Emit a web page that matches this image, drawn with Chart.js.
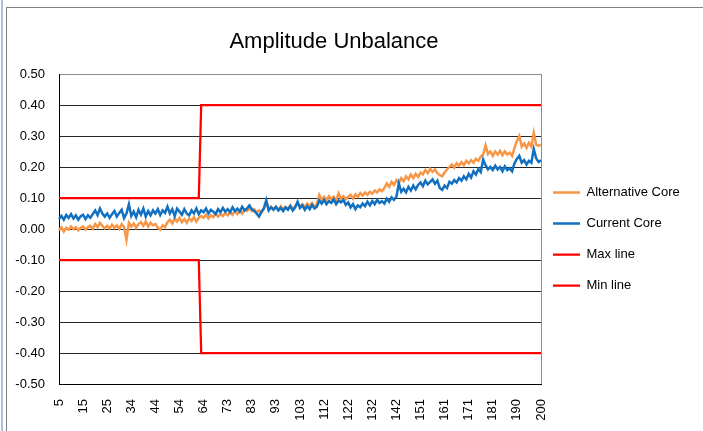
<!DOCTYPE html>
<html><head><meta charset="utf-8">
<script src="https://cdn.jsdelivr.net/npm/chart.js@4.4.1/dist/chart.umd.min.js"></script>
<style>
html,body{margin:0;padding:0;background:#fff;}
#wrap{position:relative;width:703px;height:431px;overflow:hidden;}
#edge{position:absolute;left:1px;top:0;width:2px;height:431px;background:#a9c2e2;}
#frame{position:absolute;left:6px;top:7px;width:760px;height:500px;border-left:1px solid #808080;border-top:1px solid #808080;}
canvas{position:absolute;left:0;top:0;}
</style></head><body>
<div id="wrap"><div id="edge"></div><div id="frame"></div><canvas id="c" width="703" height="431"></canvas></div>
<script>
const titleText = 'Amplitude Unbalance';
const tickLabels = ["5","15","25","34","44","54","64","73","83","93","103","112","122","132","142","151","161","171","181","190","200"];

const altCore = [
 -0.004,0.006,-0.008,0.004,-0.002,0.008,0.000,0.006,-0.004,0.004,
 0.008,-0.002,0.006,0.010,0.000,0.016,0.006,0.020,0.010,0.002,
 0.010,0.002,0.014,0.004,0.012,0.000,0.016,0.006,-0.035,0.020,
 0.008,0.018,0.004,0.016,0.022,0.010,0.024,0.008,0.020,0.012,
 0.016,0.004,-0.002,0.012,0.006,0.022,0.030,0.018,0.034,0.024,
 0.036,0.022,0.032,0.020,0.034,0.026,0.038,0.024,0.036,0.042,
 0.036,0.046,0.034,0.044,0.038,0.050,0.040,0.048,0.042,0.052,
 0.044,0.054,0.046,0.058,0.048,0.060,0.050,0.062,0.058,0.068,
 0.058,0.064,0.054,0.060,0.052,0.066,0.088,0.062,0.072,0.064,
 0.070,0.062,0.074,0.064,0.070,0.066,0.076,0.064,0.074,0.082,
 0.072,0.080,0.070,0.082,0.074,0.084,0.072,0.080,0.110,0.094,
 0.104,0.094,0.106,0.096,0.104,0.092,0.115,0.098,0.106,0.096,
 0.104,0.110,0.098,0.112,0.104,0.116,0.108,0.118,0.110,0.120,
 0.114,0.124,0.118,0.128,0.122,0.132,0.147,0.136,0.152,0.142,
 0.158,0.148,0.164,0.154,0.170,0.160,0.176,0.164,0.178,0.168,
 0.182,0.176,0.190,0.180,0.194,0.184,0.192,0.180,0.174,0.170,
 0.182,0.192,0.200,0.208,0.198,0.212,0.204,0.216,0.206,0.220,
 0.212,0.222,0.214,0.226,0.220,0.234,0.240,0.270,0.242,0.250,
 0.236,0.250,0.240,0.252,0.238,0.250,0.240,0.246,0.236,0.262,
 0.284,0.300,0.266,0.276,0.262,0.278,0.266,0.310,0.272,0.268,
 0.272
];

const curCore = [
 0.032,0.042,0.030,0.045,0.036,0.048,0.034,0.044,0.030,0.041,
 0.046,0.032,0.044,0.036,0.048,0.060,0.045,0.066,0.050,0.040,
 0.050,0.036,0.048,0.058,0.040,0.052,0.062,0.035,0.050,0.080,
 0.042,0.056,0.038,0.062,0.046,0.066,0.040,0.058,0.044,0.060,
 0.050,0.064,0.045,0.060,0.052,0.072,0.050,0.064,0.042,0.066,
 0.056,0.046,0.064,0.050,0.044,0.060,0.050,0.066,0.048,0.060,
 0.054,0.066,0.050,0.062,0.056,0.048,0.064,0.054,0.068,0.056,
 0.064,0.054,0.070,0.058,0.066,0.056,0.072,0.060,0.066,0.076,
 0.064,0.058,0.050,0.040,0.056,0.066,0.093,0.060,0.070,0.062,
 0.072,0.060,0.068,0.058,0.070,0.062,0.074,0.060,0.070,0.088,
 0.068,0.076,0.062,0.074,0.064,0.078,0.066,0.072,0.092,0.082,
 0.094,0.080,0.090,0.084,0.096,0.080,0.092,0.086,0.094,0.078,
 0.086,0.070,0.080,0.064,0.076,0.070,0.082,0.074,0.088,0.076,
 0.090,0.080,0.094,0.084,0.090,0.082,0.098,0.088,0.102,0.094,
 0.104,0.147,0.120,0.130,0.118,0.136,0.124,0.140,0.128,0.142,
 0.150,0.138,0.156,0.144,0.152,0.160,0.146,0.156,0.132,0.126,
 0.140,0.132,0.152,0.146,0.158,0.150,0.164,0.156,0.170,0.160,
 0.178,0.166,0.186,0.176,0.194,0.184,0.224,0.206,0.192,0.200,
 0.190,0.204,0.192,0.200,0.186,0.202,0.190,0.196,0.186,0.212,
 0.226,0.236,0.214,0.222,0.208,0.220,0.214,0.258,0.228,0.216,
 0.222
];

// step limit lines: sample index where each level holds, and the level
const limitIdx = [0, 58, 59, 200];
const maxLine = [0.1, 0.1, 0.4, 0.4];
const minLine = [-0.1, -0.1, -0.4, -0.4];

// category axis: 201 samples from 5 to 200
const categories = altCore.map((_, i) => (5 + i * 0.975).toFixed(3));

const FONT = "'Liberation Sans', Arial, sans-serif";
Chart.defaults.font.family = FONT;
Chart.defaults.color = '#000';

const titlePlugin = {
  id: 'excelTitle',
  afterDraw(chart) {
    const ctx = chart.ctx;
    ctx.save();
    ctx.font = '22px ' + FONT;
    ctx.fillStyle = '#000';
    ctx.textAlign = 'center';
    ctx.textBaseline = 'middle';
    ctx.fillText(titleText, 334, 42);
    ctx.restore();
  }
};
const legendShift = {
  id: 'legendShift',
  afterLayout(chart) {
    const lg = chart.legend;
    lg.left -= 6; lg.right -= 6;
    lg.top -= 13.5; lg.bottom -= 13.5;
  }
};

new Chart(document.getElementById('c'), {
  type: 'line',
  data: {
    labels: categories,
    datasets: [
      { label: 'Alternative Core', data: altCore, borderColor: '#F79646', backgroundColor: '#F79646', borderWidth: 2.5, pointRadius: 0, tension: 0, order: 2 },
      { label: 'Current Core', data: curCore, borderColor: '#1170C0', backgroundColor: '#1170C0', borderWidth: 2.5, pointRadius: 0, tension: 0, order: 1 },
      { label: 'Max line', data: limitIdx.map((k, j) => ({ x: categories[k], y: maxLine[j] })), borderColor: '#FF0000', backgroundColor: '#FF0000', borderWidth: 2.25, pointRadius: 0, tension: 0, order: 0 },
      { label: 'Min line', data: limitIdx.map((k, j) => ({ x: categories[k], y: minLine[j] })), borderColor: '#FF0000', backgroundColor: '#FF0000', borderWidth: 2.25, pointRadius: 0, tension: 0, order: 0 }
    ]
  },
  options: {
    responsive: false,
    animation: false,
    devicePixelRatio: 1,
    layout: { padding: { top: 74, right: 12, left: 0, bottom: 0 } },
    plugins: {
      legend: {
        position: 'right',
        maxWidth: 150,
        labels: {
          usePointStyle: true, pointStyle: 'line', pointStyleWidth: 27,
          padding: 18, font: { size: 13 }, color: '#000',
          sort: (a, b) => a.datasetIndex - b.datasetIndex
        }
      },
      tooltip: { enabled: false },
      title: { display: false }
    },
    scales: {
      x: {
        type: 'category',
        offset: false,
        grid: { display: true, drawTicks: false, color: (c) => c.index === categories.length - 1 ? '#8c8c8c' : 'rgba(0,0,0,0)' },
        border: { color: '#000', width: 1 },
        ticks: {
          autoSkip: false, maxRotation: 90, minRotation: 90, padding: 15,
          font: { size: 13 }, color: '#000',
          callback: (v, i) => (i % 10 === 0 ? tickLabels[i / 10] : '')
        },
        afterFit: (s) => { s.height = 47; }
      },
      y: {
        min: -0.5, max: 0.5,
        ticks: {
          stepSize: 0.1, padding: 14, font: { size: 13 }, color: '#000',
          callback: (v) => (Math.abs(v) < 1e-9 ? 0 : v).toFixed(2)
        },
        grid: { drawTicks: false, color: (c) => (c.tick && c.tick.value > 0.49 ? '#8c8c8c' : '#262626') },
        border: { color: '#000', width: 1 },
        afterFit: (s) => { s.width = 59; }
      }
    }
  },
  plugins: [titlePlugin, legendShift]
});
</script>
</body></html>
